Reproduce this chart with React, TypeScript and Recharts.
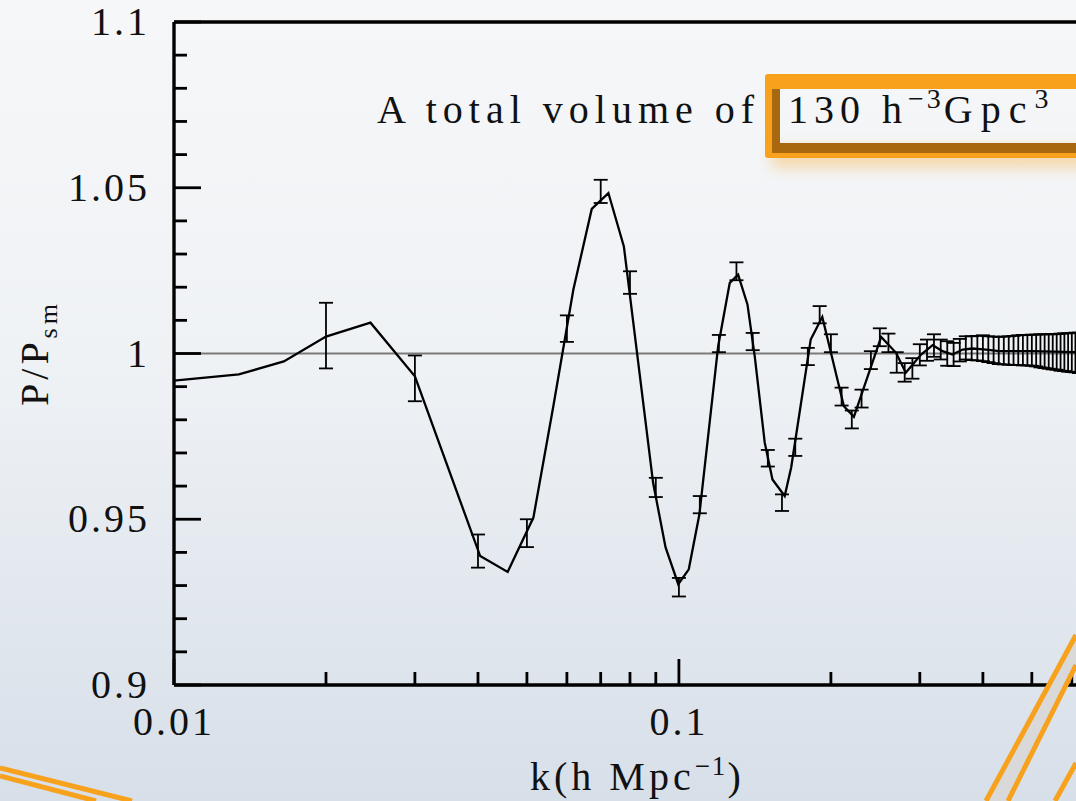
import React from 'react';
import { ComposedChart, Line, Scatter, ErrorBar, XAxis, YAxis, ReferenceLine } from 'recharts';

// model curve (P/P_sm vs k)
const lineK = [
  0.01, 0.01344, 0.0165, 0.02, 0.0245, 0.03, 0.0404, 0.0458, 0.0515, 0.0564, 0.0618, 0.0672,
  0.0725, 0.0778, 0.0889, 0.0941, 0.0997, 0.1046, 0.1098, 0.1196, 0.1261, 0.131, 0.1367,
  0.1413, 0.1479, 0.1532, 0.162, 0.1669, 0.1824, 0.1923, 0.2122, 0.2221, 0.2515, 0.2692,
  0.2814, 0.3017, 0.3181, 0.3328, 0.3483, 0.3647, 0.3817, 0.4056, 0.431, 0.5006, 0.609, 0.62,
];
const lineRatio = [
  0.9918, 0.9937, 0.9976, 1.0051, 1.0093, 0.9931, 0.9389, 0.9341, 0.9505, 0.9841, 1.0193, 1.0436,
  1.0484, 1.0323, 0.961, 0.9415, 0.9304, 0.9349, 0.9515, 1.0022, 1.0213, 1.0238, 1.0148,
  0.9992, 0.9731, 0.962, 0.957, 0.9657, 1.0042, 1.011, 0.9841, 0.9809, 1.005, 1.0002,
  0.9942, 0.9997, 1.0025, 1.0007, 0.9997, 1.0012, 1.0015, 1.0012, 1.0007, 1.0007, 1.0004, 1.0003,
];

// binned measurements with 1-sigma errors
const binK = [
  0.02, 0.03, 0.04, 0.05, 0.06, 0.07, 0.08, 0.09, 0.1, 0.11, 0.12, 0.13, 0.14, 0.15, 0.16, 0.17,
  0.18, 0.19, 0.2, 0.21, 0.22, 0.23, 0.24, 0.25, 0.26, 0.27, 0.28, 0.29, 0.3, 0.31, 0.32, 0.33,
  0.34, 0.35, 0.36, 0.37, 0.38, 0.39, 0.4, 0.41, 0.42, 0.43, 0.44, 0.45, 0.46, 0.47, 0.48, 0.49,
  0.5, 0.51, 0.52, 0.53, 0.54, 0.55, 0.56, 0.57, 0.58, 0.59, 0.6, 0.61, 0.62,
];
const binRatio = [
  1.0054, 0.9925, 0.9404, 0.9458, 1.0075, 1.0489, 1.0214, 0.9596, 0.9295, 0.9544, 1.003, 1.0248,
  1.0036, 0.9684, 0.955, 0.9717, 0.9991, 1.0117, 1.0031, 0.987, 0.9801, 0.9864, 0.998, 1.0049,
  1.0032, 0.9973, 0.9943, 0.9955, 0.9996, 1.001, 1.0024, 1.0012, 1.0, 0.9997, 1.001, 1.0017,
  1.0016, 1.0016, 1.0016, 1.0013, 1.0011, 1.0009, 1.0009, 1.0009, 1.0009, 1.001, 1.001, 1.001,
  1.001, 1.0009, 1.0008, 1.0007, 1.0006, 1.0005, 1.0005, 1.0004, 1.0004, 1.0003, 1.0003, 1.0003,
  1.0002,
];
const binErr = [
  0.0099, 0.0069, 0.005, 0.0042, 0.004, 0.0035, 0.0034, 0.0029, 0.0028, 0.0026, 0.0026, 0.0027,
  0.0026, 0.0025, 0.0025, 0.0026, 0.0026, 0.0026, 0.0027, 0.0027, 0.0027, 0.0027, 0.0027, 0.0027,
  0.0028, 0.0031, 0.0028, 0.0031, 0.0032, 0.0032, 0.0034, 0.003, 0.0037, 0.0035, 0.0034, 0.0035,
  0.0036, 0.0037, 0.0039, 0.0039, 0.004, 0.0041, 0.0042, 0.0043, 0.0044, 0.0045, 0.0046, 0.0046,
  0.0047, 0.0048, 0.005, 0.0051, 0.0052, 0.0053, 0.0054, 0.0056, 0.0057, 0.0058, 0.0059, 0.006,
  0.0061,
];

const kRange = [0.01, 0.62];
const ratioRange = [0.9, 1.1];
const xMajor = [0.01, 0.1];
const xMajorLabels = ['0.01', '0.1'];
const xMinor = [0.02, 0.03, 0.04, 0.05, 0.06, 0.07, 0.08, 0.09, 0.2, 0.3, 0.4, 0.5, 0.6];
const yMajor = [0.9, 0.95, 1, 1.05, 1.1];
const yMajorLabels = ['0.9', '0.95', '1', '1.05', '1.1'];
const yMinor = [
  0.91, 0.92, 0.93, 0.94, 0.96, 0.97, 0.98, 0.99, 1.01, 1.02, 1.03, 1.04, 1.06, 1.07, 1.08, 1.09,
];

const lineData = lineK.map((k, i) => ({ k, v: lineRatio[i] }));
const binData = binK.map((k, i) => ({ k, v: binRatio[i], err: binErr[i] }));
const xTicks = [...xMajor, ...xMinor];
const yTicks = [...yMajor, ...yMinor];

const serif = '"Liberation Serif", "Times New Roman", serif';
const orange = '#f7a11c';
const tickW = 2.8;
const frameW = 3.4;

function BottomTick(props: any) {
  const { x, y, payload } = props;
  const i = xMajor.indexOf(payload.value);
  return (
    <g>
      <line x1={x} y1={y} x2={x} y2={y - (i >= 0 ? 26 : 13)} stroke="#000" strokeWidth={tickW} />
      {i >= 0 && (
        <text x={x} y={y + 50} textAnchor="middle" fontFamily={serif} fontSize={40} letterSpacing={3} fill="#111">
          {xMajorLabels[i]}
        </text>
      )}
    </g>
  );
}

function TopTick(props: any) {
  const { x, y, payload } = props;
  const major = xMajor.includes(payload.value);
  return <line x1={x} y1={y} x2={x} y2={y + (major ? 26 : 13)} stroke="#000" strokeWidth={tickW} />;
}

function LeftTick(props: any) {
  const { x, y, payload } = props;
  const i = yMajor.indexOf(payload.value);
  return (
    <g>
      <line x1={x} y1={y} x2={x + (i >= 0 ? 27 : 13)} y2={y} stroke="#000" strokeWidth={tickW} />
      {i >= 0 && (
        <text x={x - 24} y={y + 13} textAnchor="end" fontFamily={serif} fontSize={40} letterSpacing={3} fill="#111">
          {yMajorLabels[i]}
        </text>
      )}
    </g>
  );
}

function RightTick(props: any) {
  const { x, y, payload } = props;
  const major = yMajor.includes(payload.value);
  return <line x1={x} y1={y} x2={x - (major ? 27 : 13)} y2={y} stroke="#000" strokeWidth={tickW} />;
}

export default function App() {
  return (
    <div
      style={{
        position: 'absolute',
        left: 0,
        top: 0,
        width: 1076,
        height: 801,
        overflow: 'hidden',
        background: 'linear-gradient(180deg, #f6f7f9 0%, #eff2f5 45%, #d7dfe9 100%)',
      }}
    >
      <ComposedChart width={1089} height={801} margin={{ top: 22, right: 10, bottom: 0, left: 0 }}>
        <XAxis
          xAxisId="b"
          dataKey="k"
          type="number"
          scale="log"
          domain={kRange}
          allowDataOverflow
          ticks={xTicks}
          interval={0}
          tick={BottomTick}
          tickLine={false}
          tickSize={0}
          tickMargin={0}
          height={116}
          axisLine={false}
        />
        <XAxis
          xAxisId="t"
          orientation="top"
          type="number"
          scale="log"
          domain={kRange}
          allowDataOverflow
          ticks={xTicks}
          interval={0}
          tick={TopTick}
          tickLine={false}
          tickSize={0}
          tickMargin={0}
          height={0}
          axisLine={false}
        />
        <YAxis
          yAxisId="l"
          dataKey="v"
          type="number"
          domain={ratioRange}
          allowDataOverflow
          ticks={yTicks}
          interval={0}
          tick={LeftTick}
          tickLine={false}
          tickSize={0}
          tickMargin={0}
          width={174}
          axisLine={false}
        />
        <YAxis
          yAxisId="r"
          orientation="right"
          type="number"
          domain={ratioRange}
          allowDataOverflow
          ticks={yTicks}
          interval={0}
          tick={RightTick}
          tickLine={false}
          tickSize={0}
          tickMargin={0}
          width={0}
          axisLine={false}
        />
        <ReferenceLine xAxisId="b" yAxisId="l" y={1} stroke="#7a7a7a" strokeWidth={2.2} />
        {/* plot frame */}
        <ReferenceLine xAxisId="b" yAxisId="l" x={kRange[0]} stroke="#000" strokeWidth={frameW} />
        <ReferenceLine xAxisId="b" yAxisId="l" x={kRange[1]} stroke="#000" strokeWidth={frameW} />
        <ReferenceLine xAxisId="b" yAxisId="l" y={ratioRange[0]} stroke="#000" strokeWidth={frameW} />
        <ReferenceLine xAxisId="b" yAxisId="l" y={ratioRange[1]} stroke="#000" strokeWidth={frameW} />
        <Line
          xAxisId="b"
          yAxisId="l"
          data={lineData}
          dataKey="v"
          type="linear"
          stroke="#000"
          strokeWidth={2.3}
          dot={false}
          isAnimationActive={false}
        />
        <Scatter
          xAxisId="b"
          yAxisId="l"
          data={binData}
          dataKey="v"
          shape={() => <g />}
          isAnimationActive={false}
        >
          <ErrorBar dataKey="err" direction="y" width={7} stroke="#000" strokeWidth={1.8} isAnimationActive={false} />
        </Scatter>
      </ComposedChart>

      <svg
        width={1076}
        height={801}
        style={{ position: 'absolute', left: 0, top: 0, pointerEvents: 'none' }}
      >
        <defs>
          <filter id="glow" x="-20%" y="-100%" width="140%" height="300%">
            <feGaussianBlur stdDeviation="7" />
          </filter>
        </defs>
        <text x={377} y={123} fontFamily={serif} fontSize={40} letterSpacing={6} fill="#111">
          A total volume of
        </text>
        <rect x={772} y={148} width={320} height={20} fill={orange} opacity={0.35} filter="url(#glow)" />
        <path d="M768 74 H1100 V158 H768 Q765 158 765 155 V77 Q765 74 768 74 Z M780 89 V143 H1100 V89 Z" fill={orange} fillRule="evenodd" />
        <path d="M772 89 H780 V143 H1100 V153 H772 Z" fill="#a8680f" />
        <text x={788} y={123} fontFamily={serif} fontSize={40} letterSpacing={6} fill="#111">
          130 h
          <tspan fontSize={28} dy={-15} letterSpacing={3}>−3</tspan>
          <tspan fontSize={40} dy={15} letterSpacing={8}>Gpc</tspan>
          <tspan fontSize={28} dy={-15}>3</tspan>
        </text>

        <text x={530} y={790} fontFamily={serif} fontSize={40} letterSpacing={4} fill="#111">
          k(h Mpc
          <tspan fontSize={27} dy={-15} letterSpacing={2}>−1</tspan>
          <tspan fontSize={40} dy={15}>)</tspan>
        </text>
        <text
          transform="translate(48 353) rotate(-90)"
          textAnchor="middle"
          fontFamily={serif}
          fontSize={40}
          letterSpacing={4}
          fill="#111"
        >
          P/P
          <tspan fontSize={26} dy={9}>sm</tspan>
        </text>

        <line x1={0} y1={768} x2={132} y2={801} stroke={orange} strokeWidth={5} />
        <line x1={0} y1={776} x2={96} y2={801} stroke={orange} strokeWidth={5} />
        <polygon points="986,801 1076,635 1076,665 1008,801" fill="#d9d9d9" />
        <line x1={986} y1={801} x2={1076} y2={635} stroke={orange} strokeWidth={5} />
        <line x1={1008} y1={801} x2={1076} y2={665} stroke={orange} strokeWidth={5} />
        <line x1={1055} y1={801} x2={1076} y2={763} stroke={orange} strokeWidth={5} />
      </svg>
    </div>
  );
}
